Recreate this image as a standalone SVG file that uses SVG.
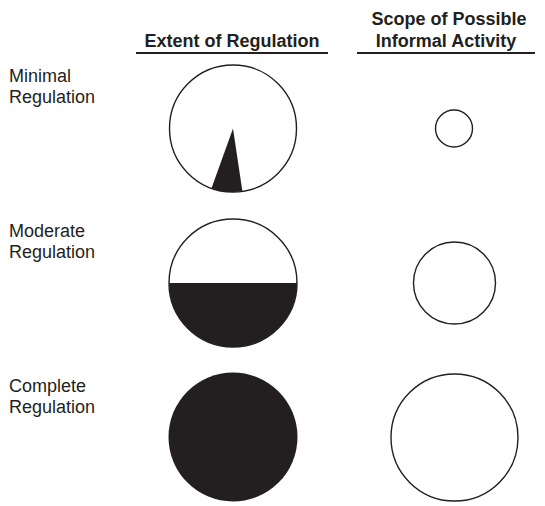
<svg xmlns="http://www.w3.org/2000/svg" width="545" height="506" viewBox="0 0 545 506">
<style>
.hdr{font-family:"Liberation Sans",Arial,sans-serif;font-weight:bold;font-size:18px;fill:#231f20;text-anchor:middle}
.lbl{font-family:"Liberation Sans",Arial,sans-serif;font-size:18px;fill:#231f20}
.rule{stroke:#231f20;stroke-width:2}
.ring{fill:#fff;stroke:#231f20;stroke-width:1.4}
.ink{fill:#231f20}
</style>
<rect width="545" height="506" fill="#fff"/>
<g id="header-extent">
<text class="hdr" x="232" y="47">Extent of Regulation</text>
<line class="rule" x1="136" y1="53" x2="328" y2="53"/>
</g>
<g id="header-scope">
<text class="hdr" x="449" y="25">Scope of Possible</text>
<text class="hdr" x="446" y="47">Informal Activity</text>
<line class="rule" x1="357" y1="53" x2="535" y2="53"/>
</g>
<g id="label-minimal">
<text class="lbl" x="9" y="82">Minimal</text>
<text class="lbl" x="9" y="103">Regulation</text>
</g>
<g id="label-moderate">
<text class="lbl" x="9" y="237">Moderate</text>
<text class="lbl" x="9" y="258">Regulation</text>
</g>
<g id="label-complete">
<text class="lbl" x="9" y="392">Complete</text>
<text class="lbl" x="9" y="413">Regulation</text>
</g>
<g id="extent-minimal">
<circle class="ring" cx="233" cy="128.5" r="63.5"/>
<path class="ink" d="M233 128.5 L211.5 188.3 A63.5 63.5 0 0 0 242.4 191.3 Z"/>
</g>
<g id="extent-moderate">
<path class="ink" d="M169 283 A64 64 0 0 0 297 283 Z"/>
<circle class="ring" cx="233" cy="283" r="64" style="fill:none"/>
</g>
<g id="extent-complete">
<circle class="ink" cx="233" cy="437" r="64.5"/>
</g>
<g id="scope-minimal">
<circle class="ring" cx="454" cy="128.5" r="18.5"/>
</g>
<g id="scope-moderate">
<circle class="ring" cx="454.5" cy="283" r="41"/>
</g>
<g id="scope-complete">
<circle class="ring" cx="454.5" cy="437.5" r="63.5"/>
</g>
<g id="connectors"/>
</svg>
